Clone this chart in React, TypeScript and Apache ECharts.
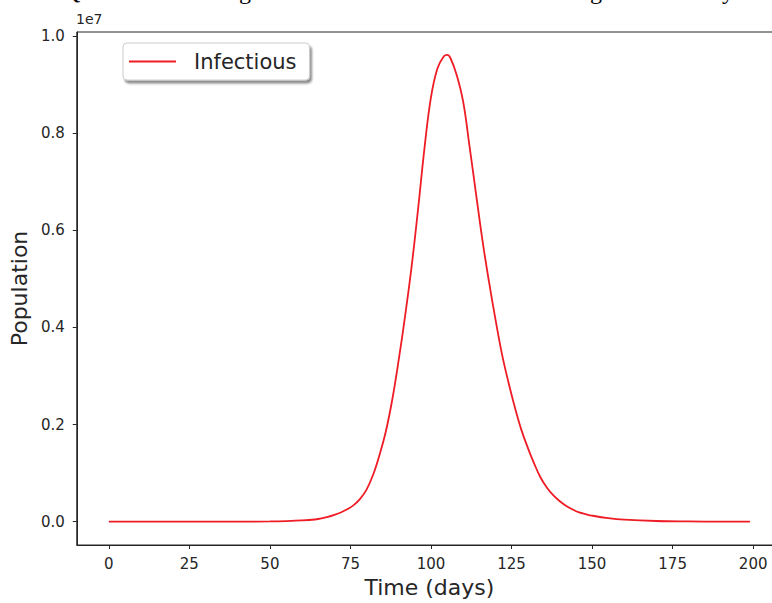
import React, { useEffect, useRef } from "react";
import * as echarts from "echarts";

const days = [0, 10, 20, 30, 40, 50, 55, 60, 64, 66, 68, 70, 72, 74, 76, 78, 80, 82, 84, 86, 88, 90, 92, 94, 96, 98, 100, 102, 104, 105, 106, 108, 110, 112, 114, 116, 118, 120, 122, 124, 126, 128, 130, 132, 134, 136, 138, 140, 142, 144, 146, 148, 150, 155, 160, 170, 180, 190, 199];
const infectious = [2, 10, 50, 250, 1200, 5500, 12000, 25000, 45000, 66000, 98000, 140000, 190000, 255000, 340000, 470000, 660000, 960000, 1370000, 1860000, 2520000, 3340000, 4250000, 5260000, 6440000, 7700000, 8740000, 9330000, 9580000, 9610000, 9550000, 9190000, 8640000, 7710000, 6740000, 5780000, 4940000, 4170000, 3460000, 2880000, 2360000, 1900000, 1530000, 1200000, 910000, 700000, 540000, 420000, 323000, 250000, 190000, 155000, 125000, 73000, 42000, 14000, 5000, 1700, 700];
const xTicks = [0, 25, 50, 75, 100, 125, 150, 175, 200];
const yTicks = [0, 2000000, 4000000, 6000000, 8000000, 10000000];

const FONT = "DejaVu Sans";
const INK = "#262626";

export default function App() {
  const ref = useRef<HTMLDivElement>(null);
  useEffect(() => {
    const chart = echarts.init(ref.current!, null, { renderer: "svg" });
    const data = days.map((d, i) => [d, infectious[i]]);
    chart.setOption({
      animation: false,
      backgroundColor: "#ffffff",
      grid: {
        left: 75,
        top: 32,
        right: 0,
        bottom: 55,
        show: true,
        borderColor: INK,
        borderWidth: 1,
        backgroundColor: "transparent",
      },
      legend: {
        left: 123,
        top: 43,
        padding: [8, 13, 8, 5],
        itemWidth: 47,
        itemHeight: 14,
        itemGap: 10,
        itemStyle: { opacity: 0 },
        backgroundColor: "#ffffff",
        borderColor: "#cccccc",
        borderWidth: 1,
        borderRadius: 4,
        shadowColor: "rgba(0,0,0,0.45)",
        shadowBlur: 2,
        shadowOffsetX: 2,
        shadowOffsetY: 3,
        textStyle: { fontFamily: FONT, fontSize: 21, color: INK, padding: [0, 0, 0, 13] },
        data: ["Infectious"],
      },
      xAxis: {
        type: "value",
        min: -9.95,
        max: 208.95,
        splitLine: { show: false },
        axisLine: { show: true, onZero: false, lineStyle: { color: INK } },
        axisTick: { show: true, length: 4, lineStyle: { color: INK }, customValues: xTicks },
        axisLabel: { fontFamily: FONT, fontSize: 15, color: INK, margin: 11, customValues: xTicks },
        name: "Time (days)",
        nameLocation: "middle",
        nameGap: 31,
        nameTextStyle: { fontFamily: FONT, fontSize: 22, color: INK },
      },
      yAxis: {
        type: "value",
        min: -480000,
        max: 10080000,
        splitLine: { show: false },
        axisLine: { show: true, onZero: false, lineStyle: { color: INK } },
        axisTick: { show: true, length: 4, lineStyle: { color: INK }, customValues: yTicks },
        axisLabel: {
          fontFamily: FONT,
          fontSize: 15,
          color: INK,
          margin: 12,
          customValues: yTicks,
          formatter: (v: number) => (v / 1e7).toFixed(1),
        },
        name: "Population",
        nameLocation: "middle",
        nameGap: 43,
        nameRotate: 90,
        nameTextStyle: { fontFamily: FONT, fontSize: 22, color: INK },
      },
      graphic: [
        { type: "text", left: 76, top: 12, style: { text: "1e7", fontFamily: FONT, fontSize: 14, fill: INK } },
        { type: "text", x: 63, y: 3, style: { text: "Q", fontFamily: "Liberation Serif", fontSize: 24, fill: "#000", verticalAlign: "bottom" } },
        { type: "text", x: 239, y: 3, style: { text: "g", fontFamily: "Liberation Serif", fontSize: 24, fill: "#000", verticalAlign: "bottom" } },
        { type: "text", x: 590, y: 3, style: { text: "g", fontFamily: "Liberation Serif", fontSize: 24, fill: "#000", verticalAlign: "bottom" } },
        { type: "text", x: 722, y: 3, style: { text: "y", fontFamily: "Liberation Serif", fontSize: 24, fill: "#000", verticalAlign: "bottom" } },
      ],
      series: [
        {
          name: "Infectious",
          type: "line",
          data,
          smooth: 0.4,
          symbol: "none",
          lineStyle: { color: "#ee1c25", width: 1.8 },
          itemStyle: { color: "#ee1c25" },
        },
      ],
    });
    return () => chart.dispose();
  }, []);
  return (
    <div style={{ position: "fixed", left: 0, top: 0, width: 772, height: 603, overflow: "hidden", background: "#fff" }}>
      <div ref={ref} style={{ width: 782, height: 603 }} />
    </div>
  );
}
